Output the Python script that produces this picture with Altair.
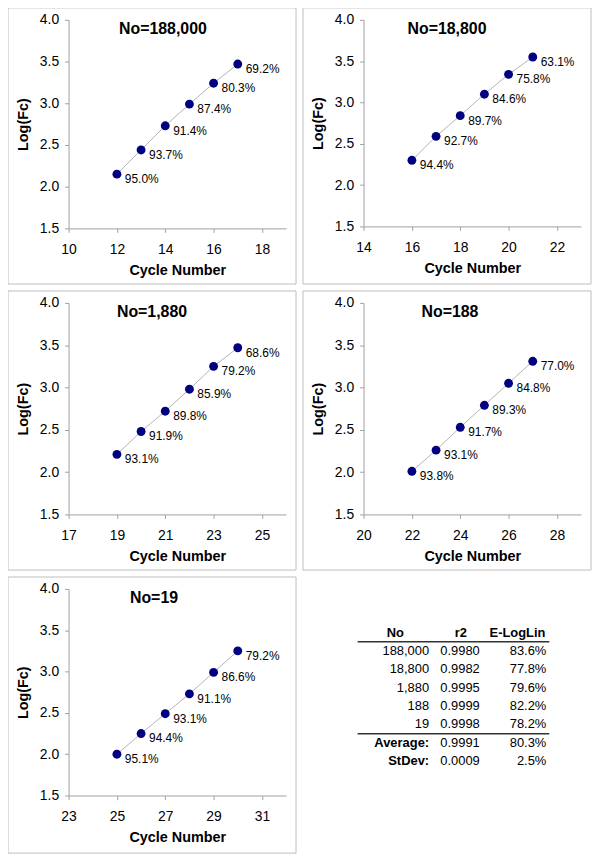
import altair as alt
import pandas as pd

# ---------------- data ----------------
NO_TITLES = ["No=188,000", "No=18,800", "No=1,880", "No=188", "No=19"]
X_MIN = [10, 14, 17, 20, 23]
CYCLES = [
    [12, 13, 14, 15, 16, 17],
    [16, 17, 18, 19, 20, 21],
    [19, 20, 21, 22, 23, 24],
    [22, 23, 24, 25, 26, 27],
    [25, 26, 27, 28, 29, 30],
]
LOGFC = [
    [2.15, 2.44, 2.73, 2.99, 3.24, 3.47],
    [2.30, 2.59, 2.84, 3.10, 3.34, 3.55],
    [2.21, 2.48, 2.72, 2.98, 3.25, 3.47],
    [2.01, 2.26, 2.53, 2.79, 3.05, 3.31],
    [2.00, 2.25, 2.49, 2.73, 2.99, 3.25],
]
EFF = [
    [95.0, 93.7, 91.4, 87.4, 80.3, 69.2],
    [94.4, 92.7, 89.7, 84.6, 75.8, 63.1],
    [93.1, 91.9, 89.8, 85.9, 79.2, 68.6],
    [93.8, 93.1, 91.7, 89.3, 84.8, 77.0],
    [95.1, 94.4, 93.1, 91.1, 86.6, 79.2],
]
Y_TICKS = [1.5, 2.0, 2.5, 3.0, 3.5, 4.0]

TABLE_HEAD = ["No", "r2", "E-LogLin"]
TABLE_NO = ["188,000", "18,800", "1,880", "188", "19"]
TABLE_R2 = ["0.9980", "0.9982", "0.9995", "0.9999", "0.9998"]
TABLE_E = ["83.6%", "77.8%", "79.6%", "82.2%", "78.2%"]
SUM_LABELS = ["Average:", "StDev:"]
SUM_R2 = ["0.9991", "0.0009"]
SUM_E = ["80.3%", "2.5%"]

# ---------------- style ----------------
FONT = "Liberation Sans"
W = 219
PANEL_H = [210, 208, 213, 213, 208]
TABLE_H = 210
ALL_H = PANEL_H + [TABLE_H]
TITLE_X = [95, 84, 84, 87, 86]
BORDER = "#bdbdbd"


def row_bottom(i):
    r = i // 2
    return max(ALL_H[2 * r: 2 * r + 2]) + 56


def border(df, i):
    return alt.Chart(df).mark_rect(fillOpacity=0, stroke=BORDER, strokeWidth=1).encode(
        x=alt.value(-61), x2=alt.value(229), y=alt.value(-12), y2=alt.value(row_bottom(i))
    )


def panel(i):
    df = pd.DataFrame({
        "cycle": CYCLES[i],
        "logfc": LOGFC[i],
        "eff": [f"{e:.1f}%" for e in EFF[i]],
    })
    lo = X_MIN[i]
    x = alt.X("cycle:Q",
              scale=alt.Scale(domain=[lo, lo + 9], nice=False, zero=False),
              axis=alt.Axis(values=list(range(lo, lo + 9, 2)), format="d",
                            title="Cycle Number", labelFlush=False))
    y = alt.Y("logfc:Q",
              scale=alt.Scale(domain=[1.5, 4.0], nice=False, zero=False),
              axis=alt.Axis(values=Y_TICKS, format=".1f", title="Log(Fc)"))
    base = alt.Chart(df).encode(x=x, y=y)
    line = base.mark_line(color="#b4b4b4", strokeWidth=1)
    pts = base.mark_circle(size=80, color="#000080", opacity=1)
    lbl = base.mark_text(align="left", baseline="middle", dx=8, dy=5,
                         fontSize=12, font=FONT, color="#000000").encode(text="eff:N")
    tdf = pd.DataFrame({"t": [NO_TITLES[i]]})
    title = alt.Chart(tdf).mark_text(fontSize=16, fontWeight="bold", font=FONT,
                                     color="#000000", align="center",
                                     baseline="middle").encode(
        text="t:N", x=alt.value(TITLE_X[i]), y=alt.value(9))
    return alt.layer(border(tdf, i), line, pts, lbl, title).properties(width=W, height=PANEL_H[i])


def table():
    n = len(TABLE_NO)
    nrows = n + len(SUM_LABELS)
    yenc = alt.Y("row:Q", scale=alt.Scale(domain=[0, nrows], range=[44, 173.5]), axis=None)
    head = pd.DataFrame({"row": [0] * 3, "t": TABLE_HEAD, "col": [0, 1, 2]})
    body = pd.DataFrame({
        "row": list(range(1, nrows + 1)),
        "c0": TABLE_NO + SUM_LABELS,
        "c1": TABLE_R2 + SUM_R2,
        "c2": TABLE_E + SUM_E,
        "summary": [False] * n + [True] * len(SUM_LABELS),
    })
    rules = pd.DataFrame({"row": [0.5, n + 0.5]})
    txt = dict(font=FONT, fontSize=13, color="#000000", baseline="middle")
    layers = [border(rules.head(1), 5).encode(strokeOpacity=alt.value(0))]
    head_x = [32, 98, 155]
    for j in range(3):
        layers.append(
            alt.Chart(head).transform_filter(alt.datum.col == j)
            .mark_text(align="center", fontWeight="bold", **txt)
            .encode(x=alt.value(head_x[j]), y=yenc, text="t:N")
        )
    bchart = alt.Chart(body)
    layers.append(bchart.transform_filter("!datum.summary")
                  .mark_text(align="right", **txt)
                  .encode(x=alt.value(66), y=yenc, text="c0:N"))
    layers.append(bchart.transform_filter("datum.summary")
                  .mark_text(align="right", fontWeight="bold", **txt)
                  .encode(x=alt.value(66), y=yenc, text="c0:N"))
    layers.append(bchart.mark_text(align="right", **txt)
                  .encode(x=alt.value(117), y=yenc, text="c1:N"))
    layers.append(bchart.mark_text(align="right", **txt)
                  .encode(x=alt.value(184), y=yenc, text="c2:N"))
    layers.append(alt.Chart(rules).mark_rule(color="#333333", strokeWidth=1.5)
                  .encode(x=alt.value(-6), x2=alt.value(187), y=yenc))
    return alt.layer(*layers).properties(width=W, height=TABLE_H)


charts = [panel(i) for i in range(5)] + [table()]

chart = (
    alt.concat(*charts, columns=2, spacing=5, align="each")
    .properties(padding={"left": -1, "top": -4, "right": 0, "bottom": 0})
    .configure_view(stroke="transparent")
    .configure_axis(
        domainColor="#a0a0a0", tickColor="#a0a0a0", tickSize=4, grid=False,
        labelFont=FONT, labelFontSize=14, labelColor="#000000",
        titleFont=FONT, titleFontSize=14.5, titleFontWeight="bold", titleColor="#000000",
    )
    .configure_axisX(labelPadding=10, titlePadding=7)
    .configure_axisY(labelPadding=6, titlePadding=9)
)

chart.save("out.html", embed_options={"renderer": "svg", "actions": False})
